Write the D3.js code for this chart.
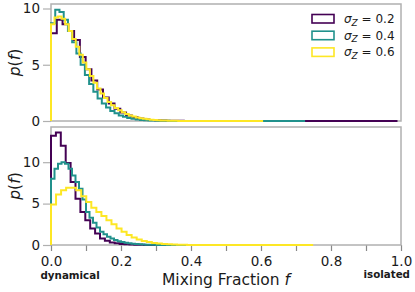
<!DOCTYPE html>
<html>
<head>
<meta charset="utf-8">
<script src="https://cdn.jsdelivr.net/npm/d3@7"></script>
<style>
  body { margin: 0; background: #fff; }
  svg text { font-family: 'DejaVu Sans', sans-serif; fill: #1a1a1a; }
</style>
</head>
<body>
<div id="chart"></div>
<script>
// mixing fraction histograms, two panels, three sigma_Z values each

const sigmaLabels = ['0.2', '0.4', '0.6'];
const seriesColors = ['#440154', '#21918c', '#fde725'];

// top panel: bin heights p(f), bin widths, max f per series
const topPurple = [7.8, 9.0, 8.6, 8.0, 7.2, 5.7, 4.6, 3.6, 2.8, 2.1, 1.55, 1.1, 0.75, 0.5, 0.33, 0.22, 0.14, 0.09, 0.06, 0.04, 0.03, 0.02, 0.015, 0.01, 0.008, 0.005, 0.004, 0.003, 0.002, 0.002, 0.001];
const topTeal = [8.7, 9.9, 9.7, 9.0, 8.0, 7.0, 6.0, 5.0, 4.1, 3.3, 2.6, 2.0, 1.55, 1.2, 0.9, 0.68, 0.5, 0.37, 0.27, 0.2, 0.14, 0.1, 0.07, 0.05, 0.035, 0.025, 0.018, 0.012, 0.008, 0.005, 0.003];
const topYellow = [8.6, 9.2, 9.3, 9.1, 8.6, 8.0, 7.3, 6.6, 5.9, 5.2, 4.6, 4.0, 3.4, 2.9, 2.45, 2.05, 1.7, 1.4, 1.15, 0.95, 0.78, 0.63, 0.5, 0.4, 0.32, 0.25, 0.2, 0.15, 0.12, 0.09, 0.07, 0.05, 0.04, 0.03, 0.02, 0.015, 0.01, 0.006, 0.004];
const topBinWidth = [0.0165, 0.0121, 0.0101];
const topMaxF = [0.99, 0.726, 0.606];

// bottom panel
const bottomPurple = [13.2, 13.6, 12.0, 9.9, 7.6, 5.6, 4.0, 3.0, 2.0, 1.4, 0.8, 0.5, 0.3, 0.2, 0.12, 0.08, 0.05, 0.03, 0.02, 0.01, 0.006, 0.003];
const bottomTeal = [8.0, 9.2, 9.8, 10.0, 9.8, 9.2, 8.4, 7.6, 6.8, 5.5, 4.0, 3.3, 2.7, 2.1, 1.6, 1.3, 1.0, 0.8, 0.6, 0.45, 0.35, 0.27, 0.2, 0.15, 0.11, 0.08, 0.06, 0.04, 0.03, 0.02, 0.015, 0.01, 0.006, 0.004];
const bottomYellow = [4.9, 6.1, 6.6, 6.9, 6.9, 6.6, 5.9, 5.2, 4.5, 4.0, 3.5, 3.0, 2.5, 2.0, 1.6, 1.2, 0.9, 0.65, 0.48, 0.35, 0.25, 0.18, 0.12, 0.08, 0.05, 0.035, 0.025, 0.015, 0.01, 0.007, 0.005, 0.003];
const bottomBinWidth = [0.014, 0.01, 0.0144];
const bottomMaxF = [0.63, 0.6, 0.749];

const xTicks = [0, 0.1, 0.2, 0.3, 0.4, 0.5, 0.6, 0.7, 0.8, 0.9, 1.0];
const yTicks = [0, 5, 10];

const W = 415, H = 292;
const left = 51, right = 401;
const panels = [
  { top: 4, bottom: 121, yMax: 10.4, values: [topPurple, topTeal, topYellow], widths: topBinWidth, maxF: topMaxF, xAxis: false, legend: true },
  { top: 127, bottom: 245, yMax: 14.25, values: [bottomPurple, bottomTeal, bottomYellow], widths: bottomBinWidth, maxF: bottomMaxF, xAxis: true, legend: false }
];

const svg = d3.select('#chart').append('svg')
  .attr('width', W)
  .attr('height', H);

const x = d3.scaleLinear().domain([0, 1]).range([left, right]);
const spineColor = '#b0b0b0';

// step outline like matplotlib histtype='step'
function stepPoints(vals, w, maxF) {
  const pts = [[0, 0]];
  vals.forEach((v, i) => {
    pts.push([i * w, v]);
    pts.push([(i + 1) * w, v]);
  });
  pts.push([vals.length * w, 0]);
  pts.push([maxF, 0]);
  return pts;
}

panels.forEach(p => {
  const y = d3.scaleLinear().domain([0, p.yMax]).range([p.bottom, p.top]);
  const g = svg.append('g');

  const clipId = 'clip' + p.top;
  svg.append('clipPath').attr('id', clipId)
    .append('rect')
    .attr('x', left - 2).attr('y', p.top)
    .attr('width', right - left + 4).attr('height', p.bottom - p.top + 1.5);

  // y axis
  const yAxis = g.append('g')
    .attr('transform', `translate(${left},0)`)
    .call(d3.axisLeft(y).tickValues(yTicks).tickFormat(d3.format('d')).tickSize(8).tickPadding(3));
  yAxis.select('.domain').remove();
  yAxis.selectAll('line').attr('stroke', spineColor).attr('stroke-width', 1.2);
  yAxis.selectAll('text').attr('font-size', 13.5).attr('fill', '#1a1a1a');

  if (p.xAxis) {
    const xAxis = g.append('g')
      .attr('transform', `translate(0,${p.bottom})`)
      .call(d3.axisBottom(x).tickValues(xTicks)
        .tickFormat(d => (Math.round(d * 10) % 2 === 0) ? d3.format('.1f')(d) : '')
        .tickSize(6).tickPadding(5));
    xAxis.select('.domain').remove();
    xAxis.selectAll('line').attr('stroke', '#888').attr('stroke-width', 1.2);
    xAxis.selectAll('text').attr('font-size', 13.5).attr('fill', '#1a1a1a');
  }

  // spines
  g.append('rect')
    .attr('x', left).attr('y', p.top)
    .attr('width', right - left).attr('height', p.bottom - p.top)
    .attr('fill', 'none')
    .attr('stroke', spineColor)
    .attr('stroke-width', 1.5);

  const line = d3.line().x(d => x(d[0])).y(d => y(d[1]));

  g.append('g').attr('clip-path', `url(#${clipId})`)
    .selectAll('path')
    .data(p.values)
    .join('path')
    .attr('d', (vals, i) => line(stepPoints(vals, p.widths[i], p.maxF[i])))
    .attr('fill', 'none')
    .attr('stroke', (_, i) => seriesColors[i])
    .attr('stroke-width', 2)
    .attr('stroke-linejoin', 'miter');

  // y label p(f)
  const cy = (p.top + p.bottom) / 2;
  const yl = g.append('text')
    .attr('transform', `translate(20,${cy}) rotate(-90)`)
    .attr('text-anchor', 'middle')
    .attr('font-size', 15.5);
  yl.append('tspan').attr('font-style', 'italic').text('p');
  yl.append('tspan').text('(');
  yl.append('tspan').attr('font-style', 'italic').text('f');
  yl.append('tspan').text(')');

  if (p.legend) {
    const items = g.append('g').selectAll('g')
      .data(sigmaLabels)
      .join('g')
      .attr('transform', (_, i) => `translate(312,${14.5 + i * 16.7})`);
    items.append('rect')
      .attr('width', 22).attr('height', 8.5)
      .attr('fill', 'none')
      .attr('stroke', (_, i) => seriesColors[i])
      .attr('stroke-width', 1.6);
    const t = items.append('text')
      .attr('x', 32).attr('y', 8.5)
      .attr('font-size', 12);
    t.append('tspan').attr('font-style', 'italic').text('σ');
    t.append('tspan').attr('font-style', 'italic').attr('font-size', 9).attr('dy', 2.5).text('Z');
    t.append('tspan').attr('dy', -2.5).text(d => ' = ' + d);
  }
});

// x label
const xl = svg.append('text')
  .attr('x', (left + right) / 2).attr('y', 285)
  .attr('text-anchor', 'middle')
  .attr('font-size', 15.5);
xl.append('tspan').text('Mixing Fraction ');
xl.append('tspan').attr('font-style', 'italic').text('f');

svg.append('text')
  .attr('x', 40.5).attr('y', 279)
  .attr('font-size', 10.3).attr('font-weight', 'bold')
  .text('dynamical');
svg.append('text')
  .attr('x', 410).attr('y', 278)
  .attr('text-anchor', 'end')
  .attr('font-size', 10.3).attr('font-weight', 'bold')
  .text('isolated');
</script>
</body>
</html>
